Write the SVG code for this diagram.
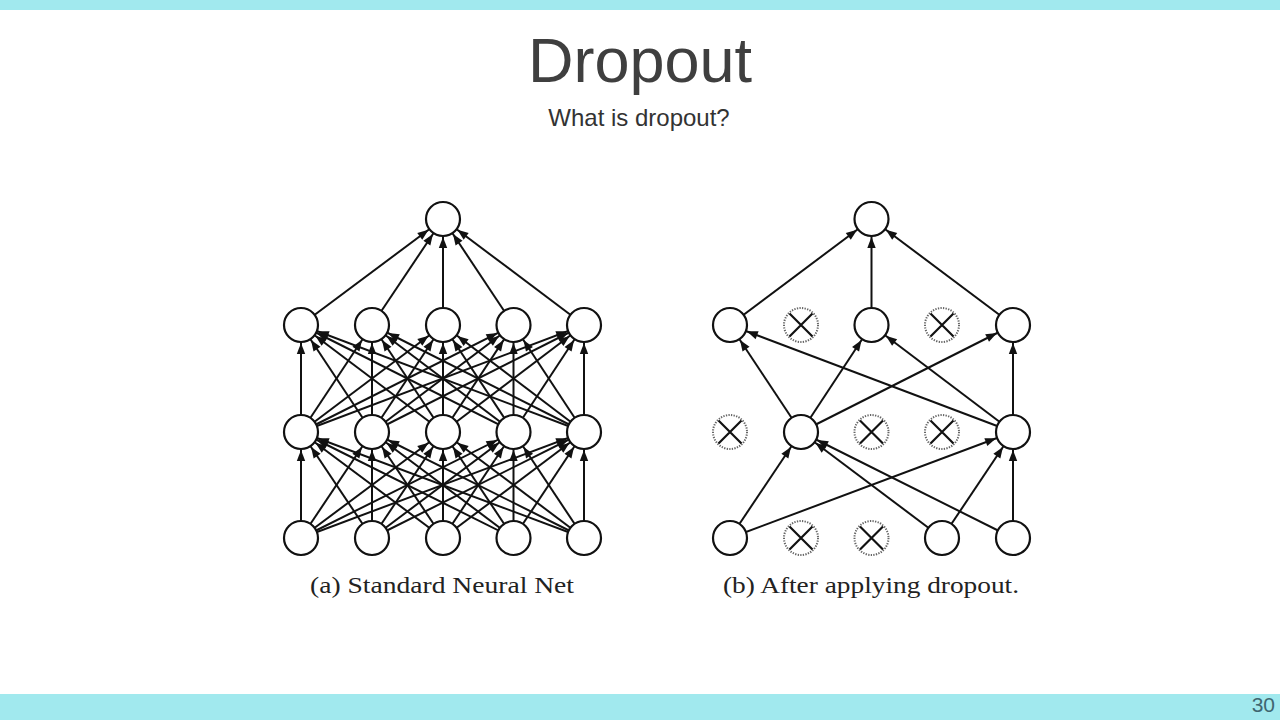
<svg xmlns="http://www.w3.org/2000/svg" width="1280" height="720" viewBox="0 0 1280 720">
<defs>
<marker id="a" markerUnits="userSpaceOnUse" markerWidth="30" markerHeight="10" refX="29" refY="0" orient="auto" overflow="visible">
<path d="M0,-4.2 L11,0 L0,4.2 z" fill="#111"/>
</marker>
<style>
.e{stroke:#111;stroke-width:2;fill:none;marker-end:url(#a)}
.n{fill:#fff;stroke:#111;stroke-width:2.2}
.d{fill:#fff;stroke:#666;stroke-width:2;stroke-dasharray:1.3 1.3}
.x{stroke:#111;stroke-width:2.2}
.cap{font-family:"Liberation Serif","Times New Roman",serif;font-size:23px;fill:#222}
</style>
</defs>
<rect x="0" y="0" width="1280" height="720" fill="#fff"/>
<rect x="0" y="0" width="1280" height="10" fill="#a1e9ee"/>
<rect x="0" y="694" width="1280" height="26" fill="#a1e9ee"/>
<text x="640" y="82" text-anchor="middle" font-family="Liberation Sans, Arial, sans-serif" font-size="63" fill="#3f3f3f">Dropout</text>
<text x="639" y="126" text-anchor="middle" font-family="Liberation Sans, Arial, sans-serif" font-size="24" fill="#333">What is dropout?</text>
<text x="1275" y="712" text-anchor="end" font-family="Liberation Sans, Arial, sans-serif" font-size="21" fill="#3f6670">30</text>

<g id="connectors">
<!-- left: bottom -> hidden1 -->
<line class="e" x1="301" y1="538" x2="301" y2="432"/>
<line class="e" x1="301" y1="538" x2="372" y2="432"/>
<line class="e" x1="301" y1="538" x2="443" y2="432"/>
<line class="e" x1="301" y1="538" x2="513.5" y2="432"/>
<line class="e" x1="301" y1="538" x2="584" y2="432"/>
<line class="e" x1="372" y1="538" x2="301" y2="432"/>
<line class="e" x1="372" y1="538" x2="372" y2="432"/>
<line class="e" x1="372" y1="538" x2="443" y2="432"/>
<line class="e" x1="372" y1="538" x2="513.5" y2="432"/>
<line class="e" x1="372" y1="538" x2="584" y2="432"/>
<line class="e" x1="443" y1="538" x2="301" y2="432"/>
<line class="e" x1="443" y1="538" x2="372" y2="432"/>
<line class="e" x1="443" y1="538" x2="443" y2="432"/>
<line class="e" x1="443" y1="538" x2="513.5" y2="432"/>
<line class="e" x1="443" y1="538" x2="584" y2="432"/>
<line class="e" x1="513.5" y1="538" x2="301" y2="432"/>
<line class="e" x1="513.5" y1="538" x2="372" y2="432"/>
<line class="e" x1="513.5" y1="538" x2="443" y2="432"/>
<line class="e" x1="513.5" y1="538" x2="513.5" y2="432"/>
<line class="e" x1="513.5" y1="538" x2="584" y2="432"/>
<line class="e" x1="584" y1="538" x2="301" y2="432"/>
<line class="e" x1="584" y1="538" x2="372" y2="432"/>
<line class="e" x1="584" y1="538" x2="443" y2="432"/>
<line class="e" x1="584" y1="538" x2="513.5" y2="432"/>
<line class="e" x1="584" y1="538" x2="584" y2="432"/>
<!-- left: hidden1 -> hidden2 -->
<line class="e" x1="301" y1="432" x2="301" y2="325"/>
<line class="e" x1="301" y1="432" x2="372" y2="325"/>
<line class="e" x1="301" y1="432" x2="443" y2="325"/>
<line class="e" x1="301" y1="432" x2="513.5" y2="325"/>
<line class="e" x1="301" y1="432" x2="584" y2="325"/>
<line class="e" x1="372" y1="432" x2="301" y2="325"/>
<line class="e" x1="372" y1="432" x2="372" y2="325"/>
<line class="e" x1="372" y1="432" x2="443" y2="325"/>
<line class="e" x1="372" y1="432" x2="513.5" y2="325"/>
<line class="e" x1="372" y1="432" x2="584" y2="325"/>
<line class="e" x1="443" y1="432" x2="301" y2="325"/>
<line class="e" x1="443" y1="432" x2="372" y2="325"/>
<line class="e" x1="443" y1="432" x2="443" y2="325"/>
<line class="e" x1="443" y1="432" x2="513.5" y2="325"/>
<line class="e" x1="443" y1="432" x2="584" y2="325"/>
<line class="e" x1="513.5" y1="432" x2="301" y2="325"/>
<line class="e" x1="513.5" y1="432" x2="372" y2="325"/>
<line class="e" x1="513.5" y1="432" x2="443" y2="325"/>
<line class="e" x1="513.5" y1="432" x2="513.5" y2="325"/>
<line class="e" x1="513.5" y1="432" x2="584" y2="325"/>
<line class="e" x1="584" y1="432" x2="301" y2="325"/>
<line class="e" x1="584" y1="432" x2="372" y2="325"/>
<line class="e" x1="584" y1="432" x2="443" y2="325"/>
<line class="e" x1="584" y1="432" x2="513.5" y2="325"/>
<line class="e" x1="584" y1="432" x2="584" y2="325"/>
<!-- left: hidden2 -> output -->
<line class="e" x1="301" y1="325" x2="443" y2="219"/>
<line class="e" x1="372" y1="325" x2="443" y2="219"/>
<line class="e" x1="443" y1="325" x2="443" y2="219"/>
<line class="e" x1="513.5" y1="325" x2="443" y2="219"/>
<line class="e" x1="584" y1="325" x2="443" y2="219"/>
<!-- right: bottom -> hidden1 -->
<line class="e" x1="730" y1="538" x2="801" y2="432"/>
<line class="e" x1="730" y1="538" x2="1013" y2="432"/>
<line class="e" x1="942" y1="538" x2="801" y2="432"/>
<line class="e" x1="942" y1="538" x2="1013" y2="432"/>
<line class="e" x1="1013" y1="538" x2="801" y2="432"/>
<line class="e" x1="1013" y1="538" x2="1013" y2="432"/>
<!-- right: hidden1 -> hidden2 -->
<line class="e" x1="801" y1="432" x2="730" y2="325"/>
<line class="e" x1="801" y1="432" x2="871.5" y2="325"/>
<line class="e" x1="801" y1="432" x2="1013" y2="325"/>
<line class="e" x1="1013" y1="432" x2="730" y2="325"/>
<line class="e" x1="1013" y1="432" x2="871.5" y2="325"/>
<line class="e" x1="1013" y1="432" x2="1013" y2="325"/>
<!-- right: hidden2 -> output -->
<line class="e" x1="730" y1="325" x2="871.5" y2="219"/>
<line class="e" x1="871.5" y1="325" x2="871.5" y2="219"/>
<line class="e" x1="1013" y1="325" x2="871.5" y2="219"/>
</g>

<!-- left network nodes -->
<g id="L-out"><circle class="n" cx="443" cy="219" r="17"/></g>
<g id="L-h2-1"><circle class="n" cx="301" cy="325" r="17"/></g>
<g id="L-h2-2"><circle class="n" cx="372" cy="325" r="17"/></g>
<g id="L-h2-3"><circle class="n" cx="443" cy="325" r="17"/></g>
<g id="L-h2-4"><circle class="n" cx="513.5" cy="325" r="17"/></g>
<g id="L-h2-5"><circle class="n" cx="584" cy="325" r="17"/></g>
<g id="L-h1-1"><circle class="n" cx="301" cy="432" r="17"/></g>
<g id="L-h1-2"><circle class="n" cx="372" cy="432" r="17"/></g>
<g id="L-h1-3"><circle class="n" cx="443" cy="432" r="17"/></g>
<g id="L-h1-4"><circle class="n" cx="513.5" cy="432" r="17"/></g>
<g id="L-h1-5"><circle class="n" cx="584" cy="432" r="17"/></g>
<g id="L-in-1"><circle class="n" cx="301" cy="538" r="17"/></g>
<g id="L-in-2"><circle class="n" cx="372" cy="538" r="17"/></g>
<g id="L-in-3"><circle class="n" cx="443" cy="538" r="17"/></g>
<g id="L-in-4"><circle class="n" cx="513.5" cy="538" r="17"/></g>
<g id="L-in-5"><circle class="n" cx="584" cy="538" r="17"/></g>

<!-- right network nodes -->
<g id="R-out"><circle class="n" cx="871.5" cy="219" r="17"/></g>
<g id="R-h2-1"><circle class="n" cx="730" cy="325" r="17"/></g>
<g id="R-h2-2"><circle class="d" cx="801" cy="325" r="17"/><path class="x" d="M789.5,313.5 L812.5,336.5 M812.5,313.5 L789.5,336.5"/></g>
<g id="R-h2-3"><circle class="n" cx="871.5" cy="325" r="17"/></g>
<g id="R-h2-4"><circle class="d" cx="942" cy="325" r="17"/><path class="x" d="M930.5,313.5 L953.5,336.5 M953.5,313.5 L930.5,336.5"/></g>
<g id="R-h2-5"><circle class="n" cx="1013" cy="325" r="17"/></g>
<g id="R-h1-1"><circle class="d" cx="730" cy="432" r="17"/><path class="x" d="M718.5,420.5 L741.5,443.5 M741.5,420.5 L718.5,443.5"/></g>
<g id="R-h1-2"><circle class="n" cx="801" cy="432" r="17"/></g>
<g id="R-h1-3"><circle class="d" cx="871.5" cy="432" r="17"/><path class="x" d="M860,420.5 L883,443.5 M883,420.5 L860,443.5"/></g>
<g id="R-h1-4"><circle class="d" cx="942" cy="432" r="17"/><path class="x" d="M930.5,420.5 L953.5,443.5 M953.5,420.5 L930.5,443.5"/></g>
<g id="R-h1-5"><circle class="n" cx="1013" cy="432" r="17"/></g>
<g id="R-in-1"><circle class="n" cx="730" cy="538" r="17"/></g>
<g id="R-in-2"><circle class="d" cx="801" cy="538" r="17"/><path class="x" d="M789.5,526.5 L812.5,549.5 M812.5,526.5 L789.5,549.5"/></g>
<g id="R-in-3"><circle class="d" cx="871.5" cy="538" r="17"/><path class="x" d="M860,526.5 L883,549.5 M883,526.5 L860,549.5"/></g>
<g id="R-in-4"><circle class="n" cx="942" cy="538" r="17"/></g>
<g id="R-in-5"><circle class="n" cx="1013" cy="538" r="17"/></g>

<text class="cap" x="310" y="593" textLength="264" lengthAdjust="spacingAndGlyphs">(a) Standard Neural Net</text>
<text class="cap" x="723" y="593" textLength="296" lengthAdjust="spacingAndGlyphs">(b) After applying dropout.</text>
</svg>
